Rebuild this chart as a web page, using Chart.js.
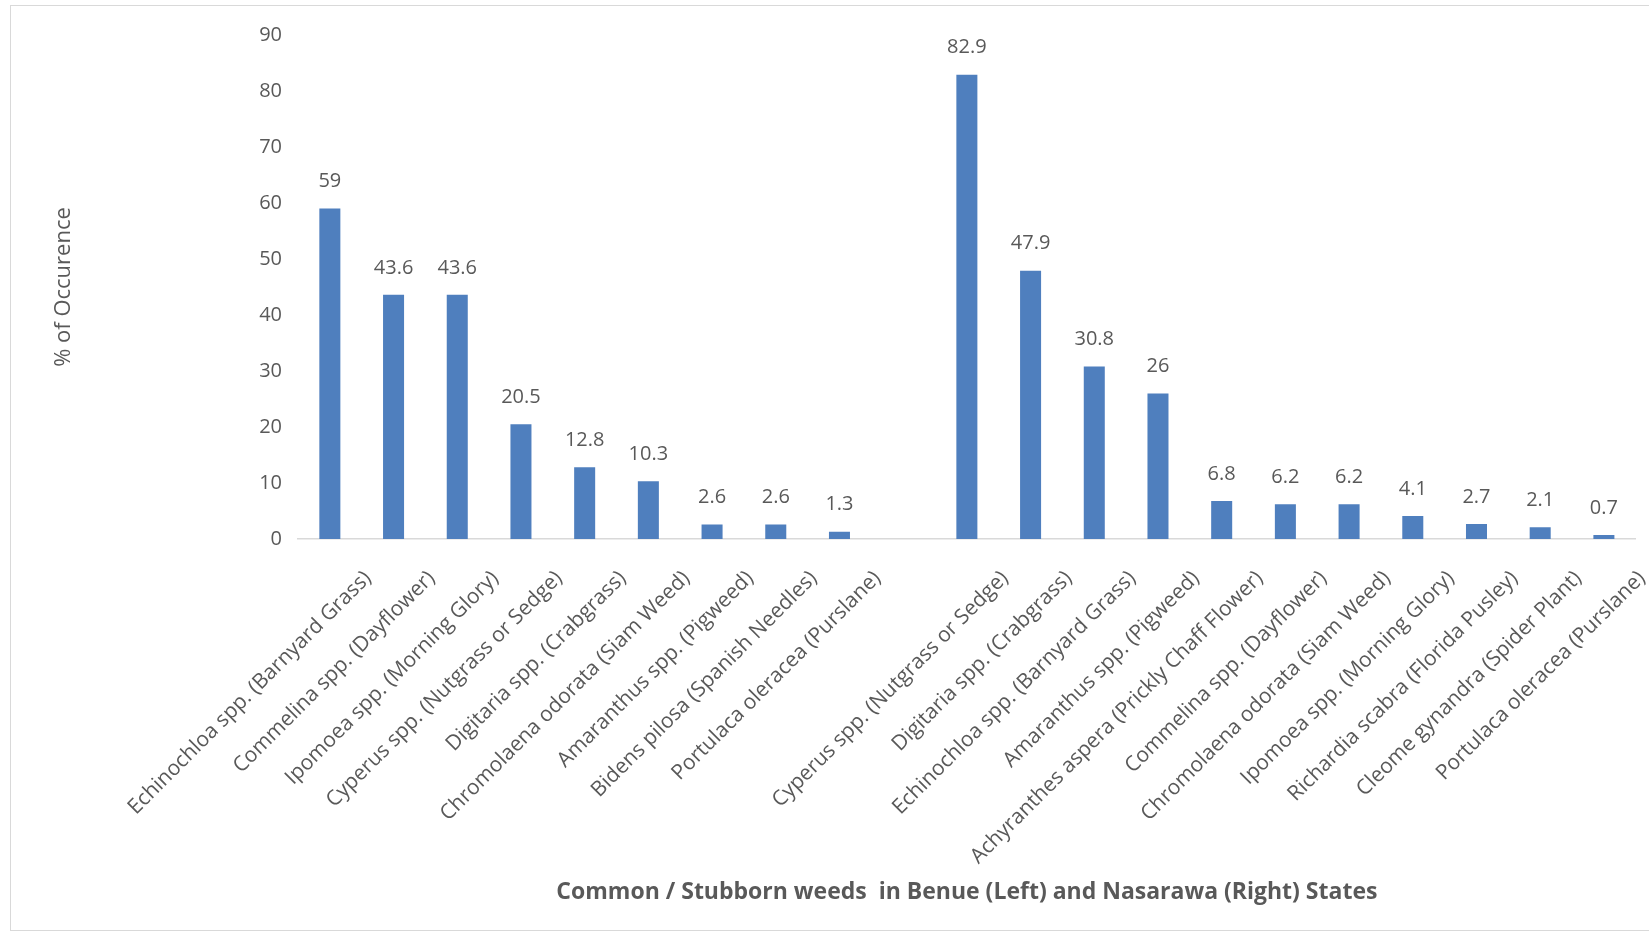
<!DOCTYPE html>
<html>
<head>
<meta charset="utf-8">
<title>Common / Stubborn weeds</title>
<script src="https://cdn.jsdelivr.net/npm/chart.js@4.4.1/dist/chart.umd.min.js"></script>
<style>
    html, body { margin: 0; padding: 0; background: #fff; overflow: hidden; }
    #wrap { position: relative; width: 1649px; height: 933px; }
    #frame { position: absolute; left: 10px; top: 5px; width: 1650px; height: 926px; border: 1px solid #d9d9d9; box-sizing: border-box; }
    canvas { position: absolute; left: 0; top: 0; }
</style>
</head>
<body>
<div id="wrap">
    <div id="frame"></div>
    <canvas id="bar" width="1649" height="933"></canvas>
</div>
<script>
// Benue State (left group)
const benueWeeds = [
    "Echinochloa spp. (Barnyard Grass)",
    "Commelina spp. (Dayflower)",
    "Ipomoea spp. (Morning Glory)",
    "Cyperus spp. (Nutgrass or Sedge)",
    "Digitaria spp. (Crabgrass)",
    "Chromolaena odorata (Siam Weed)",
    "Amaranthus spp. (Pigweed)",
    "Bidens pilosa (Spanish Needles)",
    "Portulaca oleracea (Purslane)"
];
const benueValues = [59, 43.6, 43.6, 20.5, 12.8, 10.3, 2.6, 2.6, 1.3];

// Nasarawa State (right group)
const nasarawaWeeds = [
    "Cyperus spp. (Nutgrass or Sedge)",
    "Digitaria spp. (Crabgrass)",
    "Echinochloa spp. (Barnyard Grass)",
    "Amaranthus spp. (Pigweed)",
    "Achyranthes aspera (Prickly Chaff Flower)",
    "Commelina spp. (Dayflower)",
    "Chromolaena odorata (Siam Weed)",
    "Ipomoea spp. (Morning Glory)",
    "Richardia scabra (Florida Pusley)",
    "Cleome gynandra (Spider Plant)",
    "Portulaca oleracea (Purslane)"
];
const nasarawaValues = [82.9, 47.9, 30.8, 26, 6.8, 6.2, 6.2, 4.1, 2.7, 2.1, 0.7];

const yTicks = [0, 10, 20, 30, 40, 50, 60, 70, 80, 90];

const textColor = "#595959";
const barColor = "#4f7fbe";
const fontFamily = "'Open Sans', sans-serif";

// value printed above each bar
const valueLabels = {
    id: "valueLabels",
    afterDatasetsDraw(chart) {
        const ctx = chart.ctx;
        const meta = chart.getDatasetMeta(0);
        const values = chart.data.datasets[0].data;
        ctx.save();
        ctx.font = "20px " + fontFamily;
        ctx.fillStyle = textColor;
        ctx.textAlign = "center";
        ctx.textBaseline = "middle";
        meta.data.forEach((el, i) => {
            if (values[i] === null) return;
            ctx.fillText(String(values[i]), el.x, el.y - 27);
        });
        ctx.restore();
    }
};

document.addEventListener("DOMContentLoaded", function () {
    // one empty slot separates the two states
    const labels = benueWeeds.concat([""], nasarawaWeeds);
    const values = benueValues.concat([null], nasarawaValues);

    new Chart(document.getElementById("bar"), {
        type: "bar",
        data: {
            labels: labels,
            datasets: [{
                data: values,
                backgroundColor: barColor,
                barPercentage: 0.33,
                categoryPercentage: 1
            }]
        },
        options: {
            responsive: false,
            animation: false,
            layout: { padding: { left: 51, top: 35, right: 12, bottom: 27 } },
            plugins: {
                legend: { display: false },
                tooltip: { enabled: false }
            },
            scales: {
                x: {
                    grid: { display: false, drawTicks: false },
                    border: { display: true, color: "#d9d9d9", width: 1.5 },
                    ticks: {
                        color: textColor,
                        font: { family: fontFamily, size: 21 },
                        minRotation: 45,
                        maxRotation: 45,
                        autoSkip: false,
                        padding: 27,
                        labelOffset: 38
                    },
                    title: {
                        display: true,
                        text: "Common / Stubborn weeds  in Benue (Left) and Nasarawa (Right) States",
                        color: textColor,
                        font: { family: fontFamily, size: 23, weight: "bold" },
                        padding: 0
                    },
                    afterFit(scale) { scale.height = 367; }
                },
                y: {
                    min: 0,
                    max: 90,
                    grid: { display: false, drawTicks: false },
                    border: { display: false },
                    afterBuildTicks(scale) { scale.ticks = yTicks.map(v => ({ value: v })); },
                    ticks: {
                        color: textColor,
                        font: { family: fontFamily, size: 20 },
                        padding: 16
                    },
                    title: {
                        display: true,
                        text: "% of Occurence",
                        color: textColor,
                        font: { family: fontFamily, size: 22 },
                        padding: 0
                    },
                    afterFit(scale) { scale.width = 247; }
                }
            }
        },
        plugins: [valueLabels]
    });
});
</script>
</body>
</html>
